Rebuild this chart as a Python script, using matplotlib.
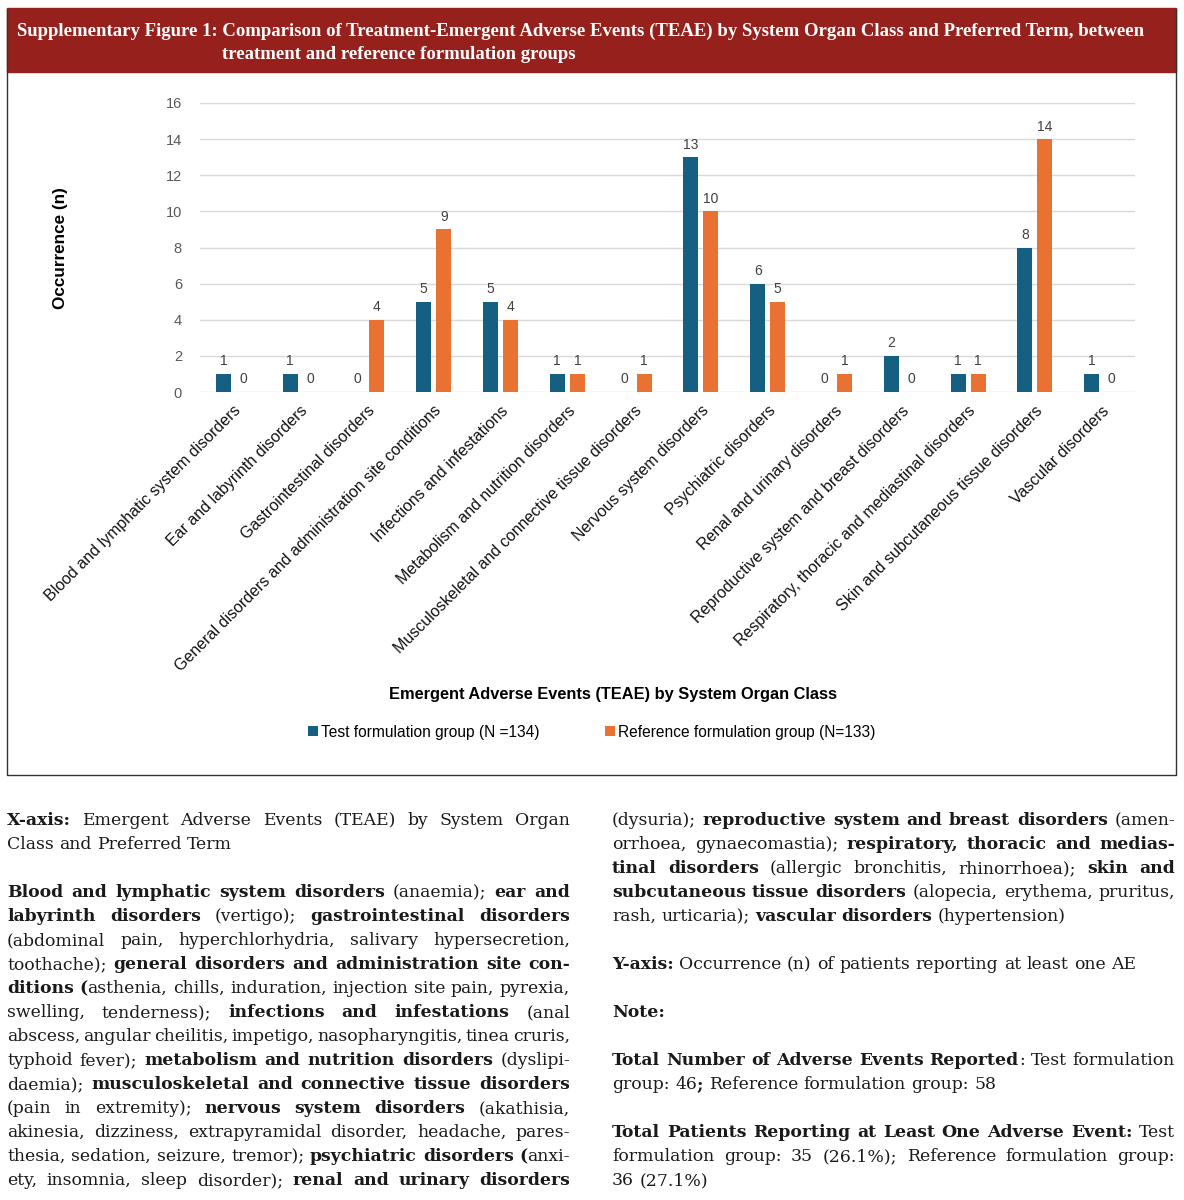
import matplotlib
matplotlib.use("Agg")
import matplotlib.pyplot as plt
from matplotlib.font_manager import FontProperties
from matplotlib.patches import Rectangle
from matplotlib.lines import Line2D
import numpy as np

W, H, DPI = 1184, 1200, 100

# ---- chart data ----
categories = [
    "Blood and lymphatic system disorders",
    "Ear and labyrinth disorders",
    "Gastrointestinal disorders",
    "General disorders and administration site conditions",
    "Infections and infestations",
    "Metabolism and nutrition disorders",
    "Musculoskeletal and connective tissue disorders",
    "Nervous system disorders",
    "Psychiatric disorders",
    "Renal and urinary disorders",
    "Reproductive system and breast disorders",
    "Respiratory, thoracic and mediastinal disorders",
    "Skin and subcutaneous tissue disorders",
    "Vascular disorders",
]
test_counts = [1, 1, 0, 5, 5, 1, 0, 13, 6, 0, 2, 1, 8, 1]
ref_counts = [0, 0, 4, 9, 4, 1, 1, 10, 5, 1, 0, 1, 14, 0]
series_labels = ["Test formulation group (N =134)", "Reference formulation group (N=133)"]

title_lines = ["Supplementary Figure 1: Comparison of Treatment-Emergent Adverse Events (TEAE) by System Organ Class and Preferred Term, between",
               "treatment and reference formulation groups"]
title_lead = "Supplementary Figure 1: "

# ---- caption text (** marks bold) ----
left_lines = [
    "**X-axis:** Emergent Adverse Events (TEAE) by System Organ",
    "Class and Preferred Term",
    "",
    "**Blood and lymphatic system disorders** (anaemia); **ear and**",
    "**labyrinth disorders** (vertigo); **gastrointestinal disorders**",
    "(abdominal pain, hyperchlorhydria, salivary hypersecretion,",
    "toothache); **general disorders and administration site con-**",
    "**ditions (**asthenia, chills, induration, injection site pain, pyrexia,",
    "swelling, tenderness); **infections and infestations** (anal",
    "abscess, angular cheilitis, impetigo, nasopharyngitis, tinea cruris,",
    "typhoid fever); **metabolism and nutrition disorders** (dyslipi-",
    "daemia); **musculoskeletal and connective tissue disorders**",
    "(pain in extremity); **nervous system disorders** (akathisia,",
    "akinesia, dizziness, extrapyramidal disorder, headache, pares-",
    "thesia, sedation, seizure, tremor); **psychiatric disorders (**anxi-",
    "ety, insomnia, sleep disorder); **renal and urinary disorders**",
]
right_lines = [
    "(dysuria); **reproductive system and breast disorders** (amen-",
    "orrhoea, gynaecomastia); **respiratory, thoracic and medias-**",
    "**tinal disorders** (allergic bronchitis, rhinorrhoea); **skin and**",
    "**subcutaneous tissue disorders** (alopecia, erythema, pruritus,",
    "rash, urticaria); **vascular disorders** (hypertension)",
    "",
    "**Y-axis:** Occurrence (n) of patients reporting at least one AE",
    "",
    "**Note:**",
    "",
    "**Total Number of Adverse Events Reported**: Test formulation",
    "group: 46**;** Reference formulation group: 58",
    "",
    "**Total Patients Reporting at Least One Adverse Event:** Test",
    "formulation group: 35 (26.1%); Reference formulation group:",
    "36 (27.1%)",
]

BLUE = "#156082"
ORANGE = "#E97132"
RED = "#96211C"

fig = plt.figure(figsize=(W / DPI, H / DPI), dpi=DPI)
renderer = fig.canvas.get_renderer()


def fx(x):
    return x / W


def fy(y):
    return 1 - y / H


def tw(s, fp):
    w, h, d = renderer.get_text_width_height_descent(s, fp, ismath=False)
    return w


# header bar and frame
fig.patches.append(Rectangle((fx(7), fy(72)), (1176 - 7) / W, 64 / H,
                             transform=fig.transFigure, color=RED, zorder=0))
fig.lines.append(Line2D([fx(6.5), fx(6.5), fx(1176), fx(1176)],
                        [fy(9), fy(775), fy(775), fy(9)],
                        transform=fig.transFigure, color="#333333", lw=1))

hp = FontProperties(family="Liberation Serif", weight="bold", size=10)
hsize = 10 * 1128 / tw(title_lines[0], hp)
hp.set_size(hsize)
fig.text(fx(17), fy(36), title_lines[0], fontproperties=hp, color="white", va="baseline")
fig.text(fx(17 + tw(title_lead, hp)), fy(59), title_lines[1], fontproperties=hp,
         color="white", va="baseline")

# ---- bar chart ----
sans = "Liberation Sans"
ax = fig.add_axes([fx(200), fy(392), (1135 - 200) / W, (392 - 103) / H])
x = np.arange(len(categories))
bw = 0.225
b1 = ax.bar(x - 0.15, test_counts, bw, color=BLUE, label=series_labels[0], zorder=3)
b2 = ax.bar(x + 0.15, ref_counts, bw, color=ORANGE, label=series_labels[1], zorder=3)
for bars in (b1, b2):
    for r in bars:
        ax.annotate(str(int(r.get_height())), (r.get_x() + r.get_width() / 2, r.get_height()),
                    xytext=(0, 4), textcoords="offset points", ha="center", va="bottom",
                    fontsize=10, color="#404040", family=sans)
ax.set_xlim(-0.5, len(categories) - 0.5)
ax.set_ylim(0, 16)
ax.set_yticks(np.arange(0, 17, 2))
ax.grid(axis="y", color="#D9D9D9", lw=1, zorder=0)
for s in ax.spines.values():
    s.set_visible(False)
ax.tick_params(axis="y", length=0, pad=13, labelsize=10.5, labelcolor="#595959")
ax.tick_params(axis="x", length=0, pad=8)
ax.set_xticks(x)
ax.set_xticklabels(categories, rotation=45, ha="right", rotation_mode="anchor",
                   fontsize=11.5, family=sans, color="#111111")
for lab in ax.get_yticklabels():
    lab.set_family(sans)

fig.text(fx(60), fy(248), "Occurrence (n)", rotation=90, ha="center", va="center",
         fontsize=12.3, fontweight="bold", family=sans)
fig.text(fx(613), fy(694), "Emergent Adverse Events (TEAE) by System Organ Class",
         ha="center", va="center", fontsize=11.8, fontweight="bold", family=sans)
fig.legend(handles=[b1, b2], loc="center", bbox_to_anchor=(fx(592), fy(732)), ncol=2,
           frameon=False, handlelength=0.6, handleheight=0.6, handletextpad=0.25,
           columnspacing=4.2, prop=FontProperties(family=sans, size=11.2))

# ---- justified caption columns ----
serif = "DejaVu Serif"


def parse(line):
    chars = []
    for i, part in enumerate(line.split("**")):
        for ch in part:
            chars.append((ch, i % 2 == 1))
    words, word = [], []
    for ch, b in chars + [(" ", False)]:
        if ch == " ":
            if word:
                words.append(word)
                word = []
        elif word and word[-1][1] == b:
            word[-1] = (word[-1][0] + ch, b)
        else:
            word.append((ch, b))
    return words


def props(b, size):
    return FontProperties(family=serif, weight="bold" if b else "normal", size=size)


def line_width(words, size):
    return sum(tw(t, props(b, size)) for w in words for t, b in w)


col_w = 563
all_lines = [l for l in left_lines + right_lines if l]
base = 10.0
space0 = tw("a a", props(False, base)) - tw("aa", props(False, base))
fit = min((col_w - 0.6 * space0 * (len(parse(l)) - 1)) / line_width(parse(l), base)
          for l in all_lines)
body_size = min(14.0, base * fit)


def draw_column(lines, x0, y0, continues):
    step = 24
    sp = tw("a a", props(False, body_size)) - tw("aa", props(False, body_size))
    for i, line in enumerate(lines):
        if not line:
            continue
        words = parse(line)
        nxt = lines[i + 1] if i + 1 < len(lines) else None
        justify = (nxt is not None and nxt != "") or (nxt is None and continues)
        widths = [sum(tw(t, props(b, body_size)) for t, b in w) for w in words]
        gap = (col_w - sum(widths)) / (len(words) - 1) if justify and len(words) > 1 else sp
        xx = x0
        yb = y0 + i * step
        for w, wd in zip(words, widths):
            xr = xx
            for t, b in w:
                fig.text(fx(xr), fy(yb), t, fontproperties=props(b, body_size),
                         color="#1a1a1a", va="baseline")
                xr += tw(t, props(b, body_size))
            xx += wd + gap


draw_column(left_lines, 7, 825, True)
draw_column(right_lines, 612, 825, False)

fig.savefig("out.png", dpi=DPI)
